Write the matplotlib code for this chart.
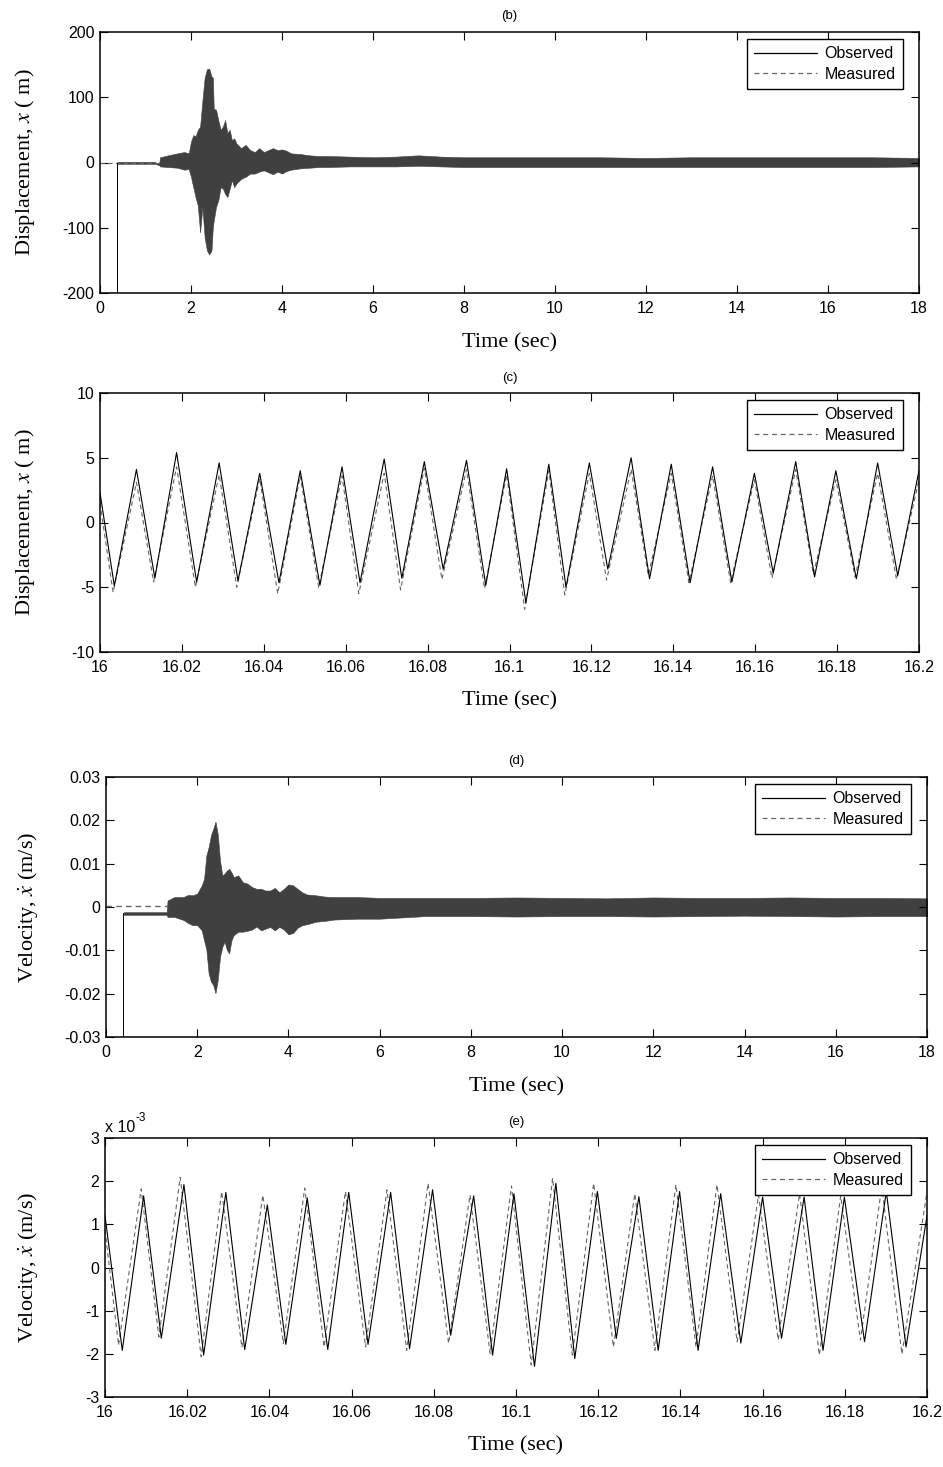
import matplotlib
matplotlib.use('Agg')
import matplotlib.pyplot as plt
from matplotlib.lines import Line2D

plt.rcParams.update({
    'font.family': ['Liberation Sans', 'DejaVu Sans'],
    'font.size': 11.5,
    'axes.unicode_minus': False,
    'mathtext.fontset': 'stix',
})

# ---- (b) displacement, full record: envelope of the dense response ----
b_env_t = [0.38, 1.2, 1.25, 1.3, 1.32, 1.5, 1.7, 1.85, 1.95, 2.0, 2.05, 2.1, 2.15, 2.2, 2.25,
           2.3, 2.35, 2.4, 2.45, 2.48, 2.5, 2.55, 2.6, 2.65, 2.7, 2.75, 2.8, 2.85, 2.9, 2.95,
           3.0, 3.1, 3.2, 3.3, 3.4, 3.5, 3.6, 3.7, 3.8, 3.9, 4.0, 4.1, 4.2, 4.4, 4.6,
           4.8, 5.0, 5.5, 6.0, 6.5, 7.0, 7.5, 8, 9, 10, 11, 12, 13, 14, 15, 16, 17, 18]
b_env_hi = [1, 1, -1, -1, 8, 11, 14, 16, 14, 32, 42, 40, 50, 55, 94,
            130, 143, 144, 132, 130, 82, 81, 65, 50, 55, 65, 45, 50, 34, 37,
            29, 22, 27, 19, 16, 22, 16, 19, 22, 19, 20, 18, 14, 13, 11,
            10, 10, 9, 8, 9, 11, 9, 8, 8, 8, 8, 7, 8, 8, 8, 8, 8, 7]
b_env_lo = [-2, -2, -3, -4, -6, -7, -8, -11, -10, -22, -38, -53, -66, -107, -68,
            -115, -135, -141, -135, -99, -89, -68, -58, -38, -40, -48, -53, -40, -27, -38,
            -32, -25, -22, -17, -17, -14, -12, -15, -18, -14, -17, -13, -11, -9, -8,
            -7, -7, -6, -6, -6, -5, -6, -7, -7, -7, -7, -7, -7, -7, -7, -7, -7, -6]
b_obs_jump_t = [0.38, 0.38]
b_obs_jump_v = [-200, 0]
b_meas_pre_t = [0, 1.3]
b_meas_pre_v = [0, 0]

# ---- (c) displacement, 16.0-16.2 s: peaks and troughs ----
c_obs_t = [16.0, 16.0035, 16.0089, 16.0134, 16.0187, 16.0236, 16.0291, 16.0337, 16.039, 16.0437,
           16.0489, 16.0537, 16.0591, 16.0635, 16.0694, 16.0737, 16.0792, 16.0838, 16.0895, 16.0942,
           16.0993, 16.104, 16.1096, 16.1138, 16.1195, 16.124, 16.1297, 16.1342, 16.1395, 16.1441,
           16.1496, 16.1543, 16.1598, 16.1644, 16.1699, 16.1745, 16.1797, 16.1847, 16.1899, 16.1948, 16.2]
c_obs_v = [2.3, -4.9, 4.1, -4.3, 5.4, -4.6, 4.6, -4.5, 3.8, -4.65,
           4.0, -4.85, 4.3, -4.65, 4.9, -4.3, 4.7, -3.6, 4.8, -4.85,
           4.15, -6.2, 4.5, -5.0, 4.6, -3.6, 5.0, -4.35, 4.5, -4.65,
           4.3, -4.6, 3.8, -3.9, 4.7, -4.2, 4.0, -4.35, 4.6, -4.1, 4.0]
c_meas_t = [16.0, 16.0032, 16.0089, 16.0131, 16.0187, 16.0233, 16.0291, 16.0334, 16.039, 16.0434,
            16.0489, 16.0534, 16.0591, 16.0632, 16.0694, 16.0734, 16.0792, 16.0835, 16.0895, 16.0939,
            16.0993, 16.1037, 16.1096, 16.1135, 16.1195, 16.1237, 16.1297, 16.1339, 16.1395, 16.1438,
            16.1496, 16.154, 16.1598, 16.1641, 16.1699, 16.1742, 16.1797, 16.1844, 16.1899, 16.1945, 16.2]
c_meas_v = [1.5, -5.4, 3.1, -4.6, 4.3, -5.0, 3.7, -5.0, 3.4, -5.5,
            3.6, -5.0, 3.6, -5.5, 3.8, -5.2, 4.2, -4.4, 4.1, -5.1,
            3.7, -6.7, 4.0, -5.6, 3.8, -4.45, 4.1, -4.1, 3.8, -4.65,
            3.6, -4.65, 3.3, -4.3, 4.1, -4.0, 3.3, -4.2, 3.8, -4.4, 3.3]

# ---- (d) velocity, full record ----
d_env_t = [0.39, 1.33, 1.35, 1.5, 1.7, 1.8, 1.9, 2.0, 2.1, 2.15, 2.2, 2.25, 2.3, 2.35, 2.4,
           2.45, 2.5, 2.55, 2.6, 2.65, 2.7, 2.75, 2.8, 2.9, 3.0, 3.1, 3.2, 3.3, 3.4, 3.5,
           3.6, 3.7, 3.8, 3.9, 4.0, 4.1, 4.2, 4.3, 4.4, 4.6, 4.8, 5.0, 5.5, 6.0, 7,
           8, 9, 10, 11, 12, 13, 14, 15, 16, 17, 18]
d_env_hi = [-0.0012, -0.0012, 0.0015, 0.0023, 0.0023, 0.0028, 0.0027, 0.0031, 0.0050, 0.0065,
            0.0119, 0.0138, 0.0165, 0.0180, 0.0197, 0.0168, 0.0107, 0.0073, 0.0077, 0.0084,
            0.0088, 0.0080, 0.0069, 0.0073, 0.0057, 0.0054, 0.0046, 0.0042, 0.0042, 0.0038,
            0.0038, 0.0044, 0.0034, 0.0042, 0.0052, 0.0050, 0.0042, 0.0034, 0.0029, 0.0027,
            0.0024, 0.0023, 0.0023, 0.0021, 0.0021, 0.0021, 0.0022, 0.0021, 0.0020, 0.0022,
            0.0021, 0.0021, 0.0022, 0.0021, 0.0021, 0.0020]
d_env_lo = [-0.0018, -0.0018, -0.0023, -0.0023, -0.0030, -0.0037, -0.0042, -0.0042, -0.0054, -0.0077,
            -0.0098, -0.0153, -0.0172, -0.0180, -0.0199, -0.0168, -0.0115, -0.0092, -0.0080, -0.0099,
            -0.0107, -0.0077, -0.0065, -0.0057, -0.0057, -0.0055, -0.0052, -0.0045, -0.0054, -0.0050,
            -0.0046, -0.0054, -0.0046, -0.0052, -0.0063, -0.0060, -0.0048, -0.0042, -0.0040, -0.0034,
            -0.0032, -0.0029, -0.0027, -0.0027, -0.0021, -0.0021, -0.0022, -0.0021, -0.0021, -0.0022,
            -0.0021, -0.0020, -0.0021, -0.0022, -0.0021, -0.0021]
d_obs_jump_t = [0.38, 0.38]
d_obs_jump_v = [-0.03, -0.0015]
d_meas_pre_t = [0, 1.35]
d_meas_pre_v = [0.0002, 0.0002]

# ---- (e) velocity, 16.0-16.2 s (values x 1e-3) ----
e_obs_t = [16.0, 16.0042, 16.0094, 16.0137, 16.0192, 16.024, 16.0294, 16.034, 16.0395, 16.044,
           16.0492, 16.0542, 16.0593, 16.064, 16.0695, 16.0741, 16.0797, 16.0841, 16.0897, 16.0943,
           16.0995, 16.1045, 16.1097, 16.1143, 16.1198, 16.1244, 16.1299, 16.1346, 16.1398, 16.1443,
           16.1498, 16.1547, 16.16, 16.1646, 16.1701, 16.1747, 16.1799, 16.1848, 16.1901, 16.1949, 16.2]
e_obs_v = [1.2, -1.92, 1.66, -1.64, 1.92, -2.03, 1.74, -1.90, 1.45, -1.78,
           1.61, -1.90, 1.74, -1.78, 1.74, -1.88, 1.80, -1.57, 1.66, -2.03,
           1.71, -2.29, 1.95, -2.11, 1.76, -1.64, 1.64, -1.92, 1.76, -1.92,
           1.71, -1.75, 1.63, -1.64, 1.63, -1.92, 1.63, -1.72, 1.76, -1.84, 1.2]
e_meas_t = [16.0, 16.0033, 16.0088, 16.0131, 16.0183, 16.0234, 16.0284, 16.0333, 16.0384, 16.0434,
            16.0486, 16.0533, 16.0585, 16.0634, 16.0686, 16.0734, 16.0786, 16.0836, 16.0888, 16.0937,
            16.0989, 16.1037, 16.1089, 16.1137, 16.1189, 16.1237, 16.1289, 16.1338, 16.1389, 16.1438,
            16.1489, 16.1538, 16.159, 16.1638, 16.169, 16.1738, 16.179, 16.1838, 16.189, 16.1939, 16.2]
e_meas_v = [0.87, -1.80, 1.82, -1.61, 2.09, -2.07, 1.76, -1.85, 1.68, -1.76,
            1.84, -1.84, 1.76, -1.84, 1.80, -1.92, 1.95, -1.76, 1.68, -1.99,
            1.89, -2.26, 2.07, -2.03, 1.95, -1.84, 1.71, -1.92, 1.92, -1.84,
            1.92, -1.72, 1.68, -1.68, 1.71, -2.03, 1.66, -1.68, 1.88, -2.01, 1.75]

# ticks
long_xticks = list(range(0, 19, 2))
short_xticks = [16 + 0.02 * i for i in range(11)]
short_xlabels = ['16', '16.02', '16.04', '16.06', '16.08', '16.1', '16.12', '16.14', '16.16', '16.18', '16.2']
b_yticks = [-200, -100, 0, 100, 200]
c_yticks = [-10, -5, 0, 5, 10]
d_yticks = [-0.03, -0.02, -0.01, 0, 0.01, 0.02, 0.03]
d_ylabels = ['-0.03', '-0.02', '-0.01', '0', '0.01', '0.02', '0.03']
e_yticks = [-3, -2, -1, 0, 1, 2, 3]

W, H = 943, 1467
fig = plt.figure(figsize=(W / 100, H / 100), dpi=100)


def add_ax(l, t, r, b):
    return fig.add_axes([l / W, 1 - b / H, (r - l) / W, (b - t) / H])


ax_b = add_ax(100, 32, 919, 293)
ax_c = add_ax(100, 393, 919, 652)
ax_d = add_ax(106, 777, 927, 1037)
ax_e = add_ax(105, 1138, 927, 1397)

BAND = '#404040'
OBS = 'black'
MEAS = '#666666'
DASH = (0, (4, 3))


def style(ax, title, ylabel, ylab_x):
    ax.tick_params(direction='in', top=True, right=True, length=6, width=0.8,
                   labelsize=11.5, pad=4)
    ax.tick_params(axis='x', pad=6)
    for s in ax.spines.values():
        s.set_linewidth(1.1)
    ax.set_title(title, fontsize=9.5, pad=9)
    ax.set_xlabel('Time (sec)', family='Liberation Serif', fontsize=16, va='center')
    ax.xaxis.set_label_coords(0.5, -0.19)
    ax.set_ylabel(ylabel, family='Liberation Serif', fontsize=16, va='center')
    ax.yaxis.set_label_coords(ylab_x, 0.5)
    handles = [Line2D([], [], color=OBS, lw=0.9),
               Line2D([], [], color=MEAS, lw=0.9, ls=DASH)]
    leg = ax.legend(handles, ['Observed', 'Measured'], loc='upper right',
                    bbox_to_anchor=(1 - 16 / 820, 1 - 7 / 260), borderaxespad=0,
                    fontsize=11.5, fancybox=False, framealpha=1, edgecolor='black',
                    handlelength=3.9, handletextpad=0.5, borderpad=0.45, labelspacing=0.35)
    leg.get_frame().set_linewidth(1.0)


# (b)
ax_b.fill_between(b_env_t, b_env_lo, b_env_hi, color=BAND, lw=0.4)
ax_b.plot(b_meas_pre_t, b_meas_pre_v, color=MEAS, lw=0.8, ls=DASH)
ax_b.plot(b_obs_jump_t, b_obs_jump_v, color=OBS, lw=0.7)
ax_b.set_xlim(0, 18)
ax_b.set_ylim(-200, 200)
ax_b.set_xticks(long_xticks)
ax_b.set_yticks(b_yticks)
style(ax_b, '(b)', 'Displacement, $x$ ( m)', -0.0916)

# (c)
ax_c.plot(c_meas_t, c_meas_v, color=MEAS, lw=0.8, ls=DASH)
ax_c.plot(c_obs_t, c_obs_v, color=OBS, lw=0.8)
ax_c.set_xlim(16, 16.2)
ax_c.set_ylim(-10, 10)
ax_c.set_xticks(short_xticks, labels=short_xlabels)
ax_c.set_yticks(c_yticks)
style(ax_c, '(c)', 'Displacement, $x$ ( m)', -0.0916)

# (d)
ax_d.fill_between(d_env_t, d_env_lo, d_env_hi, color=BAND, lw=0.4)
ax_d.plot(d_meas_pre_t, d_meas_pre_v, color=MEAS, lw=1.0, ls=DASH)
ax_d.plot(d_obs_jump_t, d_obs_jump_v, color=OBS, lw=0.7)
ax_d.set_xlim(0, 18)
ax_d.set_ylim(-0.03, 0.03)
ax_d.set_xticks(long_xticks)
ax_d.set_yticks(d_yticks, labels=d_ylabels)
style(ax_d, '(d)', r'Velocity, $\dot{x}$ (m/s)', -0.095)

# (e)
ax_e.plot(e_meas_t, e_meas_v, color=MEAS, lw=0.8, ls=DASH)
ax_e.plot(e_obs_t, e_obs_v, color=OBS, lw=0.8)
ax_e.set_xlim(16, 16.2)
ax_e.set_ylim(-3, 3)
ax_e.set_xticks(short_xticks, labels=short_xlabels)
ax_e.set_yticks(e_yticks)
style(ax_e, '(e)', r'Velocity, $\dot{x}$ (m/s)', -0.0937)
mult = ax_e.text(0.0, 1.012, 'x 10', transform=ax_e.transAxes, ha='left', va='bottom', fontsize=11.5)
ax_e.annotate('-3', xy=(1, 0.75), xycoords=mult, ha='left', va='bottom', fontsize=8.5)

fig.savefig('out.png', dpi=100)
